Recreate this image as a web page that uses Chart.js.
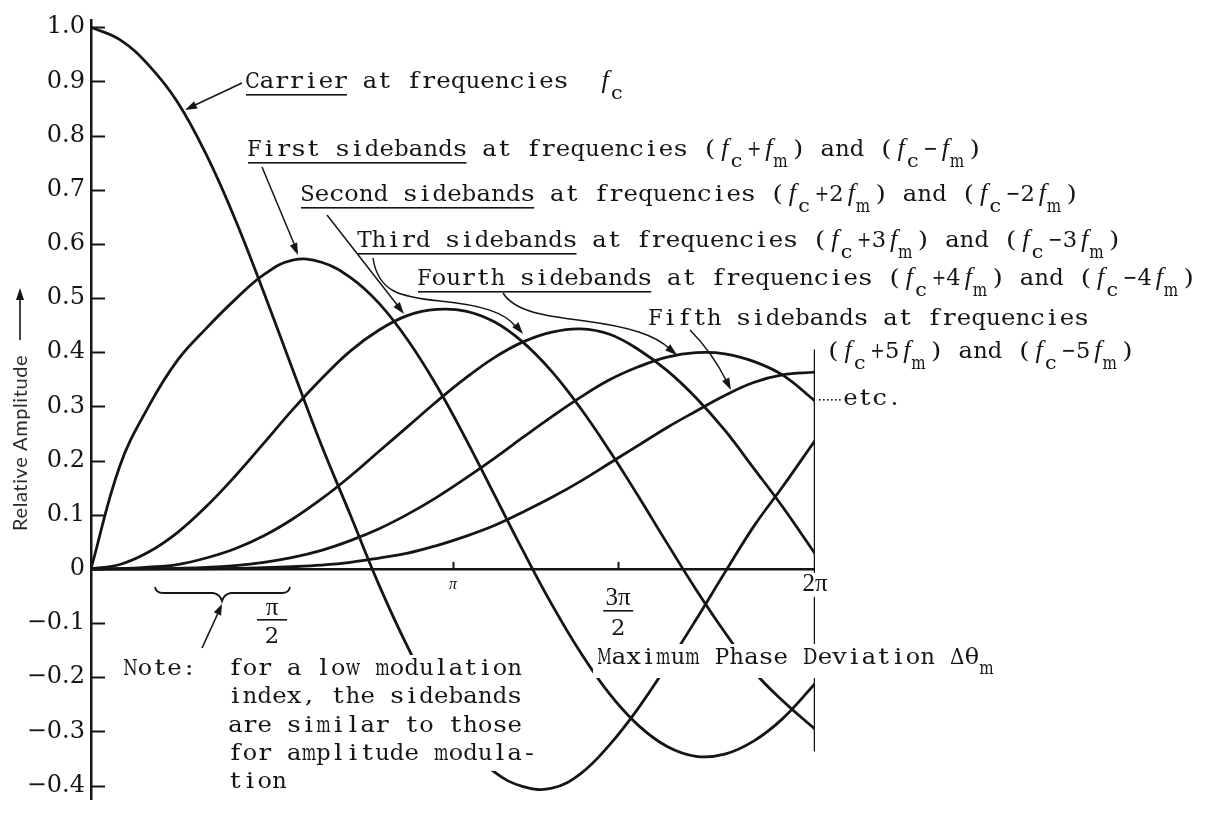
<!DOCTYPE html>
<html>
<head>
<meta charset="utf-8">
<script src="https://cdn.jsdelivr.net/npm/chart.js@4.4.1/dist/chart.umd.min.js"></script>
<style>
  html, body { margin: 0; padding: 0; background: #ffffff; }
  #wrap { width: 1231px; height: 820px; position: relative; }
</style>
</head>
<body>
<div id="wrap"><canvas id="fm" width="1231" height="820"></canvas></div>
<script>
// Maximum phase deviation (radians) at which each curve is sampled
const phase = [0, 0.25, 0.5, 0.75, 1.0, 1.25, 1.5, 1.75, 2.0, 2.25, 2.5, 2.75, 3.0,
               3.25, 3.5, 3.75, 4.0, 4.25, 4.5, 4.75, 5.0, 5.25, 5.5, 5.75, 6.0, 6.283];

// Relative amplitude of the carrier and of the first five sideband pairs
const carrier = [1.000, 0.977, 0.930, 0.862, 0.765, 0.646, 0.510, 0.368, 0.228, 0.100, -0.030, -0.145, -0.245,
                 -0.322, -0.375, -0.402, -0.405, -0.378, -0.325, -0.257, -0.178, -0.094, -0.007, 0.078, 0.151, 0.237];
const side1 = [0, 0.190, 0.300, 0.385, 0.444, 0.497, 0.543, 0.570, 0.566, 0.538, 0.490, 0.422, 0.338,
               0.241, 0.137, 0.033, -0.066, -0.155, -0.231, -0.289, -0.328, -0.346, -0.342, -0.318, -0.277, -0.212];
const side2 = [0, 0.008, 0.031, 0.067, 0.115, 0.171, 0.232, 0.294, 0.351, 0.402, 0.441, 0.468, 0.479,
               0.476, 0.456, 0.418, 0.364, 0.296, 0.218, 0.134, 0.047, -0.038, -0.117, -0.189, -0.243, -0.296];
const side3 = [0, 0.0003, 0.003, 0.008, 0.020, 0.037, 0.061, 0.092, 0.129, 0.171, 0.217, 0.263, 0.309,
               0.352, 0.390, 0.419, 0.437, 0.443, 0.433, 0.405, 0.366, 0.316, 0.256, 0.186, 0.115, 0.028];
const side4 = [0, 0, 0.0002, 0.001, 0.0025, 0.006, 0.012, 0.021, 0.034, 0.052, 0.074, 0.101, 0.132,
               0.167, 0.204, 0.243, 0.281, 0.317, 0.349, 0.373, 0.391, 0.399, 0.397, 0.383, 0.358, 0.310];
const side5 = [0, 0, 0, 0, 0.0002, 0.0008, 0.002, 0.004, 0.007, 0.012, 0.020, 0.029, 0.043,
               0.060, 0.080, 0.105, 0.132, 0.162, 0.195, 0.228, 0.261, 0.291, 0.320, 0.344, 0.358, 0.363];

// Closing line of the plot at 2π (top and bottom amplitude)
const edgePhase = 6.283;
const edgeLine = [0.405, -0.337];

// Axis ticks
const yTickValues = [1.0, 0.9, 0.8, 0.7, 0.6, 0.5, 0.4, 0.3, 0.2, 0.1, 0, -0.1, -0.2, -0.3, -0.4];
const yTickLabels = ['1.0', '0.9', '0.8', '0.7', '0.6', '0.5', '0.4', '0.3', '0.2', '0.1', '0',
                     '−0.1', '−0.2', '−0.3', '−0.4'];
const xTickValues = [1.571, 3.142, 4.575, 6.283];
const xTickLabels = [['π', '2'], 'π', ['3π', '2'], '2π'];
const xMarkValues = [3.142, 4.575];

const INK = '#151515';
const TYPE = '"DejaVu Serif", "Liberation Serif", serif';
const SERIF = '"Liberation Serif", "DejaVu Serif", serif';
const PITCH = 14.7;      // typewriter character pitch in px
const TYPE_SIZE = 23;
const WIDEN = 1.15;      // how far narrow glyphs may be widened to fill their cell

function pts(values) { return phase.map((p, i) => ({ x: p, y: values[i] })); }

const curveStyle = {
  borderColor: INK, borderWidth: 2.8, pointRadius: 0, fill: false,
  tension: 0.4, borderCapStyle: 'round'
};

// ---- typewriter-style text: each glyph centred in a fixed-pitch cell ----
function typeRun(ctx, s, x, y, size, pitch) {
  const p = pitch || PITCH;
  ctx.font = size + 'px ' + TYPE;
  ctx.textAlign = 'center';
  ctx.textBaseline = 'alphabetic';
  const maxW = p * 0.98;
  const chars = Array.from(s);
  chars.forEach((ch, i) => {
    if (ch === ' ') return;
    const w = ctx.measureText(ch).width;
    const sx = Math.min(WIDEN, maxW / w);
    ctx.save();
    ctx.translate(x + i * p + p / 2, y);
    ctx.scale(sx, 1);
    ctx.fillText(ch, 0, 0);
    ctx.restore();
  });
  return x + chars.length * p;
}

// parts: plain strings, {u: text} underlined, {f: sub} italic f with subscript, {s: sub} subscript only
function rich(ctx, x, y, parts) {
  let cx = x;
  for (const p of parts) {
    if (typeof p === 'string') {
      cx = typeRun(ctx, p, cx, y, TYPE_SIZE);
    } else if (p.u !== undefined) {
      const end = typeRun(ctx, p.u, cx, y, TYPE_SIZE);
      ctx.fillRect(cx + 1, y + 6, end - cx - 2, 1.6);
      cx = end;
    } else if (p.f !== undefined) {
      ctx.save();
      ctx.font = 'italic 26px ' + SERIF;
      ctx.textAlign = 'center';
      ctx.fillText('f', cx + PITCH / 2, y);
      ctx.restore();
      cx += PITCH;
      typeRun(ctx, p.f, cx - 3, y + 11, 18);
      cx += PITCH;
    } else if (p.s !== undefined) {
      cx = typeRun(ctx, p.s, cx, y + 10, 18);
    }
  }
  return cx;
}

function arrowHead(ctx, fx, fy, tx, ty, len, wid) {
  const a = Math.atan2(ty - fy, tx - fx);
  const c = Math.cos(a), s = Math.sin(a);
  ctx.beginPath();
  ctx.moveTo(tx, ty);
  ctx.lineTo(tx - len * c + wid * s, ty - len * s - wid * c);
  ctx.lineTo(tx - len * c - wid * s, ty - len * s + wid * c);
  ctx.closePath();
  ctx.fill();
}

function whiteBox(ctx, x, y, w, h) {
  ctx.save();
  ctx.fillStyle = '#ffffff';
  ctx.fillRect(x, y, w, h);
  ctx.restore();
}

const notes = {
  id: 'figureNotes',
  afterDatasetsDraw(chart) {
    const { ctx, chartArea: area, scales: { x, y } } = chart;
    const y0 = y.getPixelForValue(0);
    ctx.save();
    ctx.fillStyle = INK;
    ctx.strokeStyle = INK;

    // inner tick marks on the amplitude axis
    ctx.lineWidth = 2;
    yTickValues.forEach(v => {
      const py = Math.round(y.getPixelForValue(v)) + 0.5;
      ctx.beginPath(); ctx.moveTo(area.left, py); ctx.lineTo(area.left + 14, py); ctx.stroke();
    });
    // small upward ticks on the phase axis
    xMarkValues.forEach(v => {
      const px = Math.round(x.getPixelForValue(v)) + 0.5;
      ctx.beginPath(); ctx.moveTo(px, y0); ctx.lineTo(px, y0 - 7); ctx.stroke();
    });

    // phase axis labels
    xTickValues.forEach((v, i) => {
      const px = x.getPixelForValue(v);
      const lab = xTickLabels[i];
      ctx.textAlign = 'center';
      ctx.textBaseline = 'alphabetic';
      if (Array.isArray(lab)) {
        const top = i === 0 ? 615 : 605;
        const bar = i === 0 ? 619 : 610;
        const bot = i === 0 ? 643 : 635;
        ctx.font = '25px ' + SERIF;
        ctx.fillText(lab[0], px, top);
        ctx.fillRect(px - 15, bar, 30, 1.6);
        typeRun(ctx, lab[1], px - PITCH / 2, bot, TYPE_SIZE);
      } else if (lab === 'π') {
        ctx.font = 'italic 16px ' + SERIF;
        ctx.fillText(lab, px, y0 + 20);
      } else {
        whiteBox(ctx, px - 16, y0 + 4, 32, 24);
        ctx.font = '25px ' + SERIF;
        ctx.fillText(lab, px, y0 + 22);
      }
    });

    // brace under the low-index region and its pointer
    ctx.lineWidth = 1.8;
    ctx.beginPath();
    ctx.moveTo(155, 587);
    ctx.quadraticCurveTo(156, 593, 163, 593);
    ctx.lineTo(213, 593);
    ctx.quadraticCurveTo(220, 594, 222, 601);
    ctx.quadraticCurveTo(224, 594, 231, 593);
    ctx.lineTo(282, 593);
    ctx.quadraticCurveTo(289, 593, 290, 587);
    ctx.stroke();
    ctx.lineWidth = 1.6;
    ctx.beginPath(); ctx.moveTo(202, 648); ctx.lineTo(219, 611); ctx.stroke();
    arrowHead(ctx, 202, 648, 222, 604, 11, 4);

    // note block, set on a white ground
    const noteLines = ['for a low modulation', 'index, the sidebands', 'are similar to those',
                       'for amplitude modula-', 'tion'];
    noteLines.forEach((s, i) => {
      const by = 675 + i * 28.3;
      whiteBox(ctx, 226, by - 20, s.length * PITCH + 4, 31);
    });
    whiteBox(ctx, 121, 656, 80, 23);
    ctx.fillStyle = INK;
    rich(ctx, 123, 675, ['Note:']);
    noteLines.forEach((s, i) => rich(ctx, 228, 675 + i * 28.3, [s]));

    // axis title for the phase axis
    whiteBox(ctx, 593, 644, 410, 34);
    ctx.fillStyle = INK;
    rich(ctx, 597, 664, ['Maximum Phase Deviation Δθ', { s: 'm' }]);

    // curve labels
    rich(ctx, 245, 88, [{ u: 'Carrier' }, ' at frequencies  ', { f: 'c' }]);
    rich(ctx, 247, 156, [{ u: 'First sidebands' }, ' at frequencies (', { f: 'c' }, '+', { f: 'm' },
                         ') and (', { f: 'c' }, '−', { f: 'm' }, ')']);
    rich(ctx, 300, 201, [{ u: 'Second sidebands' }, ' at frequencies (', { f: 'c' }, '+2', { f: 'm' },
                         ') and (', { f: 'c' }, '−2', { f: 'm' }, ')']);
    rich(ctx, 357, 247, [{ u: 'Third sidebands' }, ' at frequencies (', { f: 'c' }, '+3', { f: 'm' },
                         ') and (', { f: 'c' }, '−3', { f: 'm' }, ')']);
    rich(ctx, 417, 285, [{ u: 'Fourth sidebands' }, ' at frequencies (', { f: 'c' }, '+4', { f: 'm' },
                         ') and (', { f: 'c' }, '−4', { f: 'm' }, ')']);
    rich(ctx, 648, 325, ['Fifth sidebands at frequencies']);
    rich(ctx, 826, 358, ['(', { f: 'c' }, '+5', { f: 'm' }, ') and (', { f: 'c' }, '−5', { f: 'm' }, ')']);
    rich(ctx, 843, 405, ['etc.']);
    ctx.fillStyle = INK;
    for (let dx = 819; dx < 840; dx += 4) ctx.fillRect(dx, 399, 1.6, 1.6);

    // pointers from the labels to their curves
    ctx.lineWidth = 1.5;
    ctx.beginPath(); ctx.moveTo(242, 83); ctx.lineTo(193, 106); ctx.stroke();
    arrowHead(ctx, 242, 83, 185, 110, 12, 4);
    ctx.beginPath(); ctx.moveTo(262, 167); ctx.lineTo(295, 246); ctx.stroke();
    arrowHead(ctx, 262, 167, 298, 255, 12, 4);
    ctx.beginPath(); ctx.moveTo(327, 215); ctx.lineTo(398, 306); ctx.stroke();
    arrowHead(ctx, 327, 215, 404, 314, 12, 4);
    ctx.beginPath(); ctx.moveTo(373, 258);
    ctx.bezierCurveTo(378, 292, 400, 297, 440, 301);
    ctx.bezierCurveTo(480, 305, 505, 312, 516, 327); ctx.stroke();
    arrowHead(ctx, 505, 312, 523, 334, 12, 4);
    ctx.beginPath(); ctx.moveTo(503, 293);
    ctx.bezierCurveTo(515, 312, 545, 316, 585, 321);
    ctx.bezierCurveTo(630, 327, 655, 335, 670, 349); ctx.stroke();
    arrowHead(ctx, 650, 333, 677, 355, 12, 4);
    ctx.beginPath(); ctx.moveTo(690, 330); ctx.quadraticCurveTo(712, 352, 727, 382); ctx.stroke();
    arrowHead(ctx, 712, 352, 731, 390, 12, 4);

    // amplitude axis title with its arrow
    ctx.save();
    ctx.translate(27, 531);
    ctx.rotate(-Math.PI / 2);
    ctx.font = '20px Lato, "Open Sans", sans-serif';
    ctx.letterSpacing = '0.6px';
    ctx.fillStyle = '#2a2a2a';
    ctx.textAlign = 'left';
    ctx.fillText('Relative Amplitude', 0, 0);
    ctx.restore();
    ctx.lineWidth = 1.6;
    ctx.beginPath(); ctx.moveTo(20, 340); ctx.lineTo(20, 298); ctx.stroke();
    arrowHead(ctx, 20, 340, 20, 288, 12, 4);

    ctx.restore();
  }
};

new Chart(document.getElementById('fm'), {
  type: 'line',
  data: {
    datasets: [
      { label: 'Carrier', data: pts(carrier), ...curveStyle },
      { label: 'First sidebands', data: pts(side1), ...curveStyle },
      { label: 'Second sidebands', data: pts(side2), ...curveStyle },
      { label: 'Third sidebands', data: pts(side3), ...curveStyle },
      { label: 'Fourth sidebands', data: pts(side4), ...curveStyle },
      { label: 'Fifth sidebands', data: pts(side5), ...curveStyle },
      { label: '2π', data: edgeLine.map(v => ({ x: edgePhase, y: v })),
        borderColor: INK, borderWidth: 2.5, pointRadius: 0, fill: false }
    ]
  },
  options: {
    responsive: false,
    animation: false,
    devicePixelRatio: 1,
    layout: { padding: { top: 13, right: 416, bottom: 0, left: 0 } },
    plugins: { legend: { display: false }, tooltip: { enabled: false } },
    scales: {
      x: { type: 'linear', min: 0, max: 6.283, display: false },
      y: {
        min: -0.426, max: 1.0125,
        afterBuildTicks: s => { s.ticks = yTickValues.map(v => ({ value: v })); },
        afterFit: s => { s.width = 91; },
        ticks: {
          autoSkip: false,
          padding: 6,
          color: INK,
          font: { family: TYPE, size: 24 },
          callback: (v, i) => yTickLabels[i]
        },
        grid: {
          drawTicks: false,
          color: c => (c.tick && c.tick.value === 0 ? INK : 'rgba(0,0,0,0)'),
          lineWidth: c => (c.tick && c.tick.value === 0 ? 2.5 : 0)
        },
        border: { display: true, color: INK, width: 2.5 }
      }
    }
  },
  plugins: [notes]
});
</script>
</body>
</html>
